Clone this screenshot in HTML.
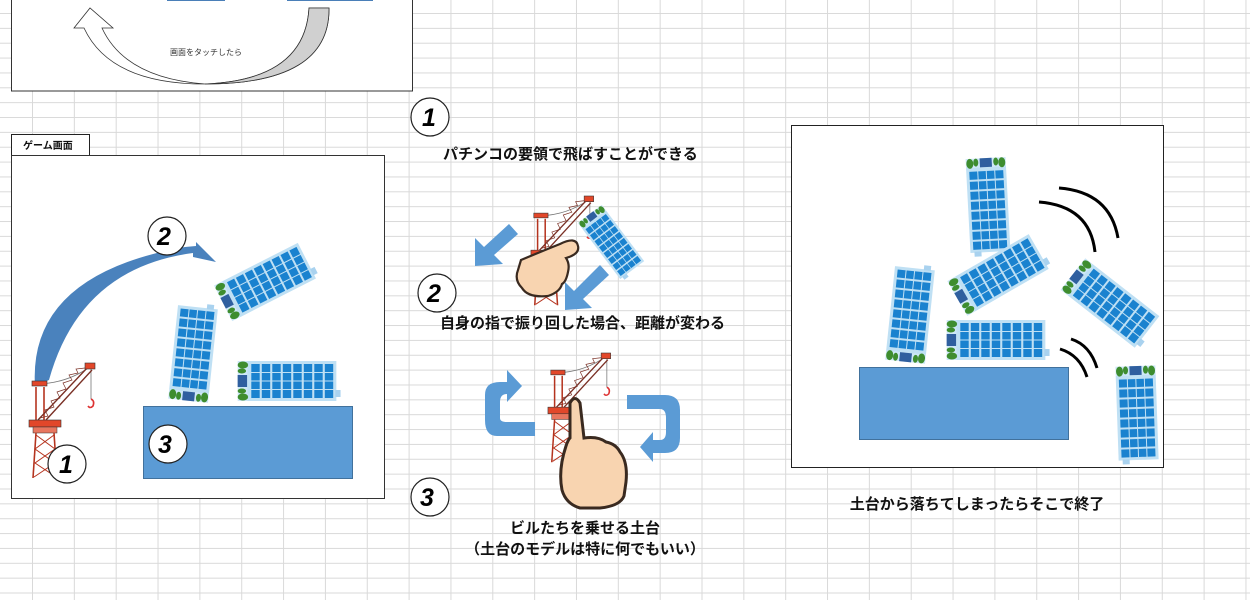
<!DOCTYPE html>
<html><head><meta charset="utf-8"><style>
html,body{margin:0;padding:0}
body{width:1250px;height:600px;overflow:hidden;position:relative;background-color:#fff;
background-image:linear-gradient(to right,#d9d9d9 1px,transparent 1px),linear-gradient(to bottom,#d9d9d9 1px,transparent 1px);
background-size:41.85px 14.87px;background-position:32px 13px;font-family:"Liberation Sans","Noto Sans CJK JP",sans-serif}
svg{position:absolute;left:0;top:0}
.t{font-family:"Liberation Sans","Noto Sans CJK JP",sans-serif;font-weight:bold;fill:#111}
.n{font-family:"Liberation Sans",sans-serif;font-weight:900;font-style:italic;fill:#000;font-size:25px}
</style></head><body>
<svg width="1250" height="600" viewBox="0 0 1250 600">
<defs>
<g id="b">
<rect x="-20" y="-47" width="40" height="85" fill="#bfe0f4"/>
<rect x="9" y="-51" width="7" height="5" fill="#a9d2ef"/>
<g fill="#1a82cf">
<rect x="-17" y="-44" width="34" height="8"/><rect x="-17" y="-34" width="34" height="8"/>
<rect x="-17" y="-24" width="34" height="8"/><rect x="-17" y="-14" width="34" height="8"/>
<rect x="-17" y="-4" width="34" height="8"/><rect x="-17" y="6" width="34" height="8"/>
<rect x="-17" y="16" width="34" height="8"/><rect x="-17" y="26" width="34" height="8"/>
</g>
<g stroke="#bfe0f4" stroke-width="1"><line x1="-8.5" y1="-45" x2="-8.5" y2="36"/><line x1="0" y1="-45" x2="0" y2="36"/><line x1="8.5" y1="-45" x2="8.5" y2="36"/></g>
<rect x="-20" y="38" width="40" height="9" fill="#cde7f7"/>
<rect x="-6" y="38" width="12" height="9" fill="#2f5f9f"/>
<g fill="#3e8d2f"><ellipse cx="-16" cy="42" rx="3.5" ry="5"/><ellipse cx="-10" cy="43" rx="2.5" ry="4"/><ellipse cx="10" cy="43" rx="2.5" ry="4"/><ellipse cx="16" cy="42" rx="3.5" ry="5"/></g>
</g>
<g id="cr">
<path d="M10,21 Q40,20 63,3" fill="none" stroke="#777" stroke-width="0.8"/>
<line x1="63" y1="5" x2="63" y2="36" stroke="#777" stroke-width="0.8"/>
<path d="M63,36 q4,2 2,7 q-3,3 -5,0" fill="none" stroke="#d33" stroke-width="1.6"/>
<g stroke="#b5341f" stroke-width="1.6"><line x1="8" y1="24" x2="8" y2="57"/><line x1="16" y1="24" x2="16" y2="57"/></g>
<g stroke="#7a3025" stroke-width="1.4" fill="none"><line x1="10" y1="57" x2="60" y2="4"/><line x1="18" y1="57" x2="64" y2="7"/><path d="M12,55 L20,53 L17,47 L26,44 L23,38 L32,35 L29,29 L38,26 L35,20 L44,17 L41,12 L50,10 L48,6 L57,5" stroke-width="0.7"/></g>
<rect x="4" y="18" width="15" height="5" fill="#e2472a" stroke="#333" stroke-width="0.6"/>
<rect x="57" y="0" width="10" height="6" fill="#e2472a" stroke="#333" stroke-width="0.6"/>
<rect x="1" y="57" width="32" height="7" fill="#e2472a" stroke="#333" stroke-width="0.6"/>
<rect x="5" y="64" width="24" height="6" fill="#e8765f" stroke="#333" stroke-width="0.5"/>
<g stroke="#b5341f" stroke-width="1.6" fill="none"><line x1="8" y1="70" x2="5" y2="115"/><line x1="26" y1="70" x2="29" y2="115"/>
<path d="M8,72 L27,86 L7,100 L28,114 M26,72 L7,86 L27,100 L6,114" stroke-width="1"/></g>
</g>
</defs>

<!-- top box -->
<rect x="11.5" y="-5" width="401" height="96" fill="#fff" stroke="#333" stroke-width="1"/>
<rect x="167" y="-2" width="58" height="3" fill="#4a7fb8"/>
<rect x="287" y="-2" width="86" height="3" fill="#4a7fb8"/>
<path d="M309,8 L329,8 Q330,84 205,84 Q110,84 84,28 L74,28 L90,8 L113,28 L102,28 Q125,78 205,84 Q305,80 309,8 Z" fill="#fff" stroke="#333" stroke-width="0.8"/>
<path d="M309,8 L329,8 Q330,84 205,84 Q305,80 309,8 Z" fill="#d0d0d0" stroke="#333" stroke-width="0.8"/>
<text x="170" y="55" font-size="8" fill="#333" font-family="Liberation Sans,Noto Sans CJK JP,sans-serif">画面をタッチしたら</text>

<!-- game screen -->
<rect x="11.5" y="134.5" width="78" height="21" fill="#fff" stroke="#222"/>
<text x="23" y="149" class="t" font-size="10">ゲーム画面</text>
<rect x="11.5" y="155.5" width="373" height="343" fill="#fff" stroke="#333"/>
<path d="M35,386 Q28,275 185,247 L196,246 L196,242 L216,262 L193,257 L193,253 Q80,268 49,380 Z" fill="#4a82bd"/>
<use href="#cr" x="28" y="363"/>
<rect x="143.5" y="406.5" width="209" height="72" fill="#5b9bd5" stroke="#41719c"/>
<use href="#b" transform="translate(265,282) rotate(63)"/>
<use href="#b" transform="translate(193,354) rotate(6)"/>
<use href="#b" transform="translate(287,381) rotate(90) scale(1,1.05)"/>
<g fill="#fff" stroke="#222" stroke-width="1.2">
<circle cx="167" cy="236" r="19"/><circle cx="168" cy="444" r="19"/><circle cx="67" cy="464" r="19"/></g>
<text x="157" y="245" class="n">2</text><text x="158" y="453" class="n">3</text><text x="59" y="473" class="n">1</text>

<!-- center -->
<g fill="#fff" stroke="#222" stroke-width="1.2"><circle cx="430" cy="117" r="19"/><circle cx="437" cy="293" r="19"/><circle cx="430" cy="497" r="19"/></g>
<text x="422" y="126" class="n">1</text><text x="427" y="302" class="n">2</text><text x="420" y="506" class="n">3</text>
<text x="443" y="159" class="t" font-size="15">パチンコの要領で飛ばすことができる</text>
<text x="440" y="328" class="t" font-size="15">自身の指で振り回した場合、距離が変わる</text>
<text x="585" y="533" class="t" font-size="15" text-anchor="middle">ビルたちを乗せる土台</text>
<text x="585" y="554" class="t" font-size="15" text-anchor="middle">（土台のモデルは特に何でもいい）</text>

<polygon points="509,224 518,234 494,255 503,264 475,266 475,238 484,247" fill="#5b9bd5"/>
<polygon points="600,265 609,275 583,299 592,308 565,310 565,282 574,291" fill="#5b9bd5"/>
<use href="#cr" transform="translate(530,196) scale(0.95)"/>
<use href="#b" transform="translate(611,242) rotate(143) scale(0.75)"/>
<path d="M521,260 Q540,252 560,244 Q576,236 578,246 Q580,254 566,258 Q570,264 568,272 Q566,282 562,284 Q560,292 548,296 Q528,298 522,288 Q514,280 518,270 Z" fill="#f8d4b0" stroke="#3a2a20" stroke-width="2.2"/>

<!-- cyclic arrows -->
<path d="M535,422 L535,436 L497,436 Q485,436 485,420 L485,395 Q485,382 500,382 L507,382 L507,370 L522,386 L507,402 L507,394 Q500,394 500,402 L500,418 Q500,422 507,422 Z" fill="#5b9bd5"/>
<path d="M627,395 L627,409 L660,409 Q666,409 666,418 L666,432 Q666,440 660,440 L653,440 L653,432 L640,447 L653,462 L653,453 L665,453 Q680,453 680,438 L680,410 Q680,395 665,395 Z" fill="#5b9bd5"/>
<use href="#cr" transform="translate(547,353) scale(0.95)"/>
<path d="M570,403 Q575,394 580,403 L584,438 Q598,436 606,442 Q616,444 620,452 Q628,462 626,482 L624,496 Q620,506 600,508 L580,508 Q566,504 562,490 Q558,470 566,446 Q568,440 570,438 Z" fill="#f8d4b0" stroke="#3a2a20" stroke-width="3"/>

<!-- right box -->
<rect x="791.5" y="125.5" width="372" height="342" fill="#fff" stroke="#222"/>
<rect x="859.5" y="367.5" width="209" height="72" fill="#5b9bd5" stroke="#41719c"/>
<use href="#b" transform="translate(988,205) rotate(177)"/>
<use href="#b" transform="translate(910,315) rotate(6)"/>
<use href="#b" transform="translate(998,275) rotate(60)"/>
<use href="#b" transform="translate(996,340) rotate(90) scale(1,1.05)"/>
<use href="#b" transform="translate(1110,303) rotate(128)"/>
<use href="#b" transform="translate(1137,413) rotate(178)"/>
<g fill="none" stroke="#000" stroke-width="3">
<path d="M1059,188 Q1110,192 1118,238"/><path d="M1039,202 Q1090,206 1095,252"/>
<path d="M1071,339 Q1090,345 1097,368"/><path d="M1060,349 Q1080,355 1087,377"/></g>
<text x="977" y="509" class="t" font-size="15" text-anchor="middle">土台から落ちてしまったらそこで終了</text>
</svg>
</body></html>
